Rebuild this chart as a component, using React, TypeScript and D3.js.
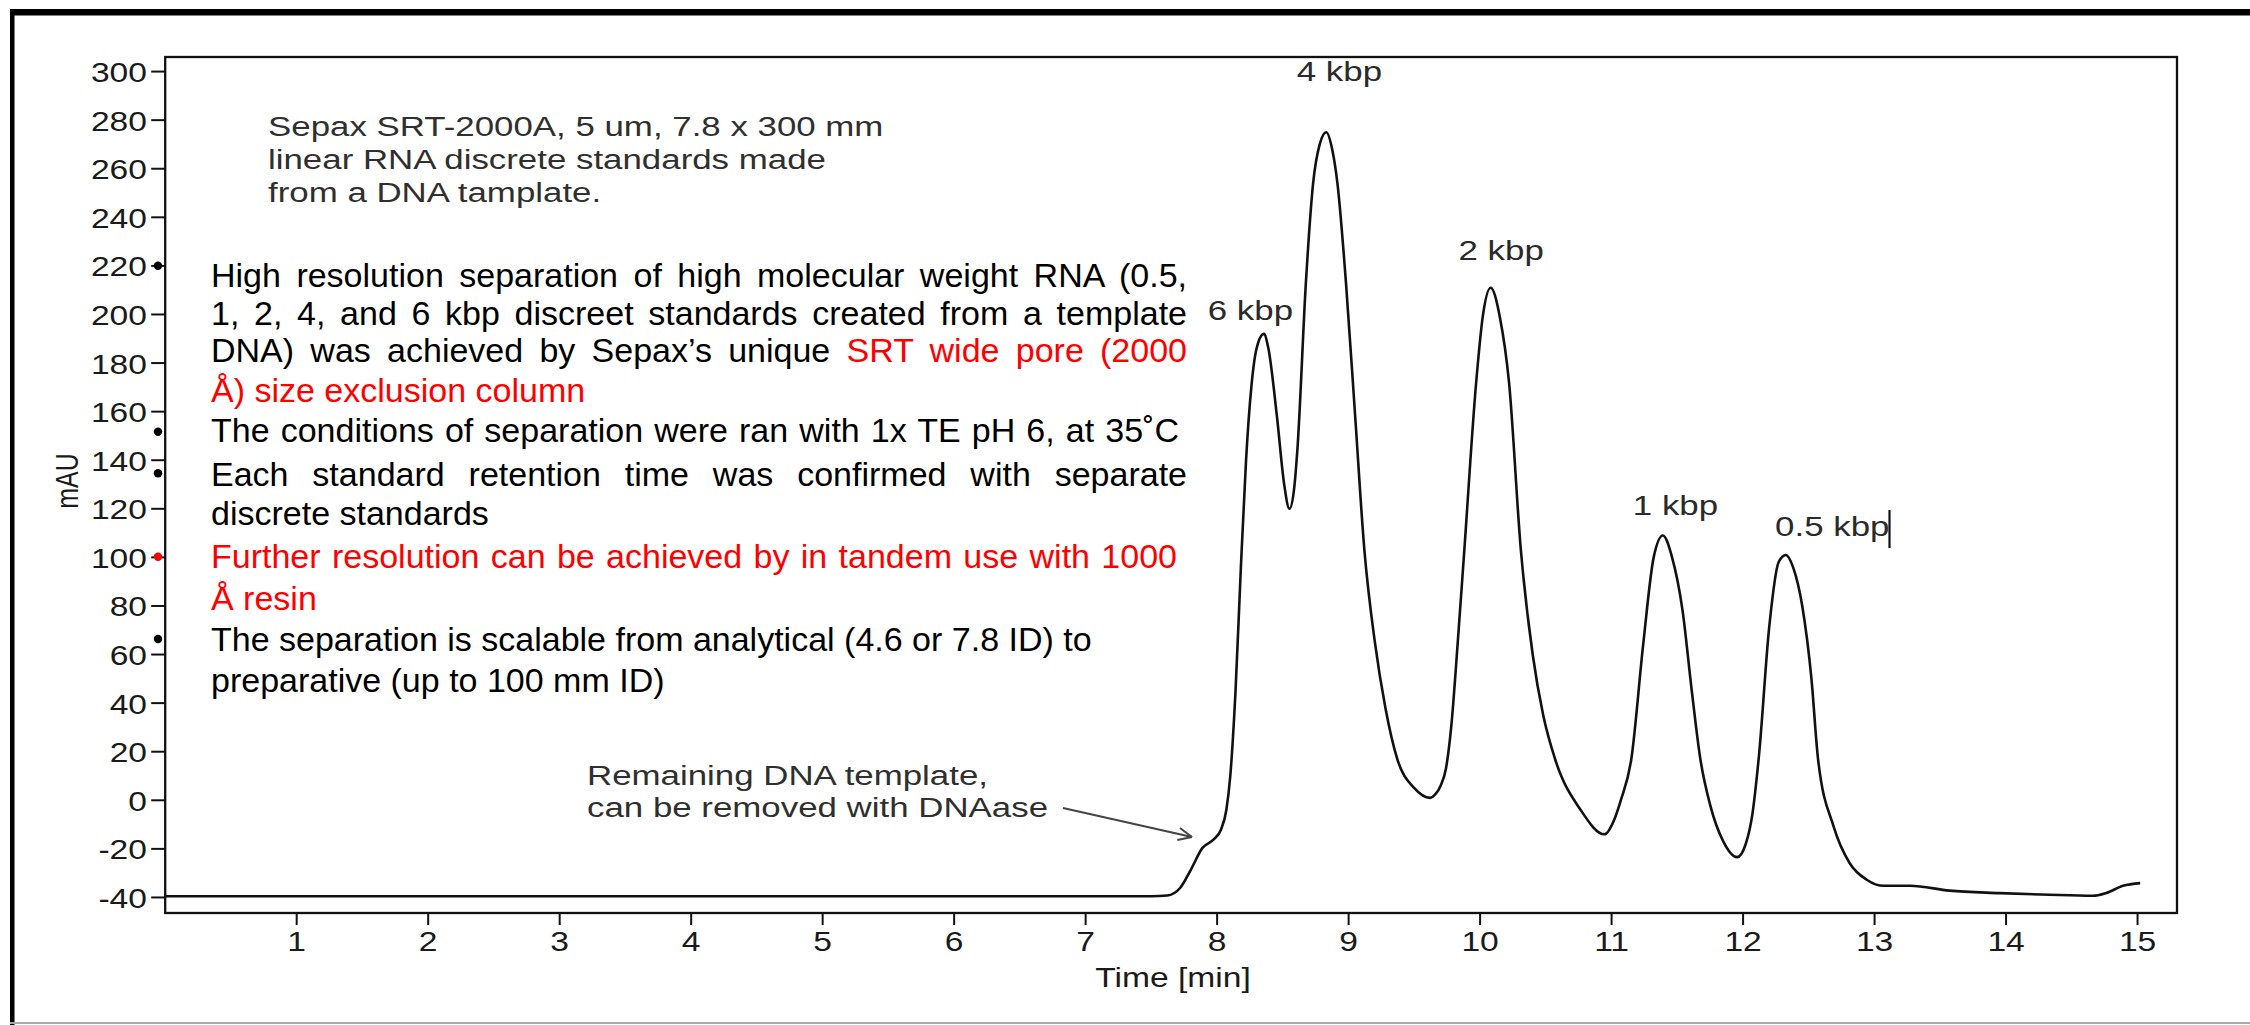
import React, { useEffect, useRef } from "react";
import * as d3 from "d3";

// Chromatogram trace (time in min, absorbance in mAU)
const TIME = [
  0, 7.5, 7.62, 7.72, 7.8, 7.89, 7.97, 8.03, 8.07, 8.1, 8.14, 8.18, 8.22, 8.26, 8.3, 8.355, 8.39,
  8.455, 8.51, 8.55, 8.585, 8.61, 8.675, 8.73, 8.78, 8.83, 8.875, 8.915, 8.98, 9.05, 9.12, 9.2, 9.28, 9.37,
  9.5, 9.62, 9.66, 9.7, 9.74, 9.78, 9.83, 9.88, 9.97, 10.02, 10.08, 10.15, 10.22, 10.31, 10.4, 10.48, 10.57,
  10.765, 10.946, 11.02, 11.07, 11.15, 11.24, 11.32, 11.39, 11.46, 11.54, 11.61, 11.675, 11.75, 11.85, 11.955,
  12.02, 12.07, 12.12, 12.2, 12.27, 12.325, 12.38, 12.45, 12.52, 12.57, 12.69, 12.81, 12.94, 13.07, 13.27, 13.57,
  13.95, 14.33, 14.66, 14.76, 14.89, 15.02,
];
const MAU = [
  -39.5, -39.5, -39.2, -36, -28.6, -19.5, -16.3, -12, -4, 10, 45, 95, 140, 170, 186, 192, 186,
  158, 130, 120, 128, 144, 213, 254, 270, 275, 268, 254, 213, 158, 103, 65, 38, 17,
  5, 1, 2.5, 6, 13, 30, 65, 103, 172, 199, 211, 199, 172, 103, 60, 35, 17,
  -4, -14, -8, 0, 17, 64, 100, 109, 100, 78, 45, 17, -2, -17, -23.4,
  -18, -6, 18, 72, 98, 101, 96, 80, 50, 17, -11, -25.8, -32.7, -35.2, -35.2, -37.2,
  -38.2, -38.9, -39.3, -38.2, -35.2, -34.1,
];

const X_TICKS = [1, 2, 3, 4, 5, 6, 7, 8, 9, 10, 11, 12, 13, 14, 15];
const Y_TICKS = [-40, -20, 0, 20, 40, 60, 80, 100, 120, 140, 160, 180, 200, 220, 240, 260, 280, 300];

const PEAK_NAMES = ["6 kbp", "4 kbp", "2 kbp", "1 kbp", "0.5 kbp"];
const PEAK_LABEL_T = [8.253, 8.93, 10.16, 11.486, 12.678];
const PEAK_LABEL_V = [197.7, 296, 222.4, 117.4, 108.8];

const COLUMN_NOTE = [
  "Sepax SRT-2000A, 5 um, 7.8 x 300 mm",
  "linear RNA discrete standards made",
  "from a DNA tamplate.",
];
const DNA_NOTE = ["Remaining DNA template,", "can be removed with DNAase"];

const RED = "#ff0000";
const BLACK = "#000000";

const BULLET_LINES: { y: number; parts: [string, string][]; end?: number }[] = [
  { y: 287, parts: [["High resolution separation of high molecular weight RNA (0.5,", BLACK]], end: 1187 },
  { y: 325, parts: [["1, 2, 4, and 6 kbp discreet standards created from a template", BLACK]], end: 1187 },
  { y: 362, parts: [["DNA) was achieved by Sepax\u2019s unique ", BLACK], ["SRT wide pore (2000", RED]], end: 1187 },
  { y: 402, parts: [["\u00C5) size exclusion column", RED]] },
  { y: 442, parts: [["The conditions of separation were ran with 1x TE pH 6, at 35\u02DAC", BLACK]], end: 1179 },
  { y: 486, parts: [["Each standard retention time was confirmed with separate", BLACK]], end: 1187 },
  { y: 525, parts: [["discrete standards", BLACK]] },
  { y: 568, parts: [["Further resolution can be achieved by in tandem use with 1000", RED]], end: 1177 },
  { y: 610, parts: [["\u00C5 resin", RED]] },
  { y: 651, parts: [["The separation is scalable from analytical (4.6 or 7.8 ID) to", BLACK]] },
  { y: 692, parts: [["preparative (up to 100 mm ID)", BLACK]] },
];
const BULLETS: { y: number; color: string }[] = [
  { y: 265.7, color: BLACK },
  { y: 431.7, color: BLACK },
  { y: 473.3, color: BLACK },
  { y: 556.7, color: RED },
  { y: 639, color: BLACK },
];

const W = 2250;
const H = 1025;
const STRETCH = 1.245;
const FONT = "'Liberation Sans', Arial, Helvetica, sans-serif";

export default function App() {
  const ref = useRef<SVGSVGElement>(null);

  useEffect(() => {
    const svg = d3.select(ref.current);
    svg.selectAll("*").remove();

    const x = d3.scaleLinear().domain([0, 15.3]).range([165.2, 2177]);
    const y = d3.scaleLinear().domain([-46.4, 306]).range([913, 57]);

    svg.append("rect").attr("width", W).attr("height", H).attr("fill", "#fff");

    // outer frame
    svg.append("rect").attr("x", 10).attr("y", 9).attr("width", W - 10).attr("height", 6.5).attr("fill", "#000");
    svg.append("rect").attr("x", 10).attr("y", 9).attr("width", 4.5).attr("height", H - 9).attr("fill", "#000");
    svg.append("line").attr("x1", 10).attr("x2", W).attr("y1", 1023).attr("y2", 1023)
      .attr("stroke", "#a8a8a8").attr("stroke-width", 2);

    const stxt = (
      g: any, text: string, tx: number, ty: number, size: number, anchor: string, fill: string
    ) =>
      g.append("text")
        .attr("transform", `translate(${tx},${ty}) scale(${STRETCH},1)`)
        .attr("text-anchor", anchor)
        .attr("font-size", size)
        .attr("font-family", FONT)
        .attr("fill", fill)
        .text(text);

    const g = svg.append("g");

    // plot box
    g.append("rect")
      .attr("x", x(0)).attr("y", y(306))
      .attr("width", x(15.3) - x(0)).attr("height", y(-46.4) - y(306))
      .attr("fill", "none").attr("stroke", "#111").attr("stroke-width", 2.3);

    // x ticks
    X_TICKS.forEach((t) => {
      g.append("line").attr("x1", x(t)).attr("x2", x(t)).attr("y1", y(-46.4)).attr("y2", y(-46.4) + 12)
        .attr("stroke", "#111").attr("stroke-width", 2);
      stxt(g, String(t), x(t), 950.5, 27, "middle", "#1a1a1a");
    });
    // y ticks
    Y_TICKS.forEach((v) => {
      g.append("line").attr("x1", x(0) - 14).attr("x2", x(0)).attr("y1", y(v)).attr("y2", y(v))
        .attr("stroke", "#111").attr("stroke-width", 2);
      stxt(g, String(v), 147, y(v) + 10.5, 27, "end", "#1a1a1a");
    });

    // axis titles
    stxt(g, "Time [min]", 1173, 987, 27, "middle", "#1a1a1a");
    g.append("text")
      .attr("transform", `translate(78,481) scale(${STRETCH},1) rotate(-90)`)
      .attr("text-anchor", "middle")
      .attr("font-size", 25)
      .attr("font-family", FONT)
      .attr("fill", "#1a1a1a")
      .text("mAU");

    // trace
    const pts = TIME.map((t, i) => [t, MAU[i]] as [number, number]);
    const line = d3.line<[number, number]>()
      .x((d) => x(d[0]))
      .y((d) => y(d[1]))
      .curve(d3.curveMonotoneX);
    g.append("path").attr("d", line(pts) as string)
      .attr("fill", "none").attr("stroke", "#111").attr("stroke-width", 2.6)
      .attr("stroke-linejoin", "round");

    // peak labels
    PEAK_NAMES.forEach((name, i) => {
      stxt(g, name, x(PEAK_LABEL_T[i]), y(PEAK_LABEL_V[i]), 28, "middle", "#2a2a2a");
    });
    // text cursor after "0.5 kbp"
    g.append("line").attr("x1", 1889.5).attr("x2", 1889.5).attr("y1", 510).attr("y2", 548)
      .attr("stroke", "#111").attr("stroke-width", 2.2);

    // column note
    COLUMN_NOTE.forEach((s, i) => {
      stxt(g, s, 268, 136 + i * 33, 28, "start", "#2f2f2f");
    });

    // DNA note + arrow
    DNA_NOTE.forEach((s, i) => {
      stxt(g, s, 587, 785 + i * 32, 28, "start", "#2f2f2f");
    });
    const ax1 = 1063, ay1 = 808, ax2 = 1192, ay2 = 837;
    g.append("line").attr("x1", ax1).attr("y1", ay1).attr("x2", ax2).attr("y2", ay2)
      .attr("stroke", "#444").attr("stroke-width", 2);
    const ang = Math.atan2(ay2 - ay1, ax2 - ax1);
    const hl = 15;
    [-0.42, 0.42].forEach((da) => {
      g.append("line").attr("x1", ax2).attr("y1", ay2)
        .attr("x2", ax2 - hl * Math.cos(ang + da)).attr("y2", ay2 - hl * Math.sin(ang + da))
        .attr("stroke", "#444").attr("stroke-width", 2);
    });

    // bullet text block
    const tb = svg.append("g");
    BULLET_LINES.forEach((ln) => {
      const t = tb.append("text")
        .attr("x", 211).attr("y", ln.y)
        .attr("font-size", 34)
        .attr("font-family", FONT)
        .style("white-space", "pre");
      ln.parts.forEach((p) => t.append("tspan").attr("fill", p[1]).text(p[0]));
      if (ln.end) {
        const node = t.node() as SVGTextElement;
        const nat = node.getComputedTextLength();
        const full = ln.parts.map((p) => p[0]).join("");
        const spaces = (full.match(/ /g) || []).length;
        if (spaces > 0) t.attr("word-spacing", (ln.end - 211 - nat) / spaces);
      }
    });
    BULLETS.forEach((b) => {
      tb.append("circle").attr("cx", 158).attr("cy", b.y).attr("r", 4.2).attr("fill", b.color);
    });
  }, []);

  return (
    <svg
      ref={ref}
      width={W}
      height={H}
      style={{ position: "absolute", left: 0, top: 0, display: "block" }}
    />
  );
}
